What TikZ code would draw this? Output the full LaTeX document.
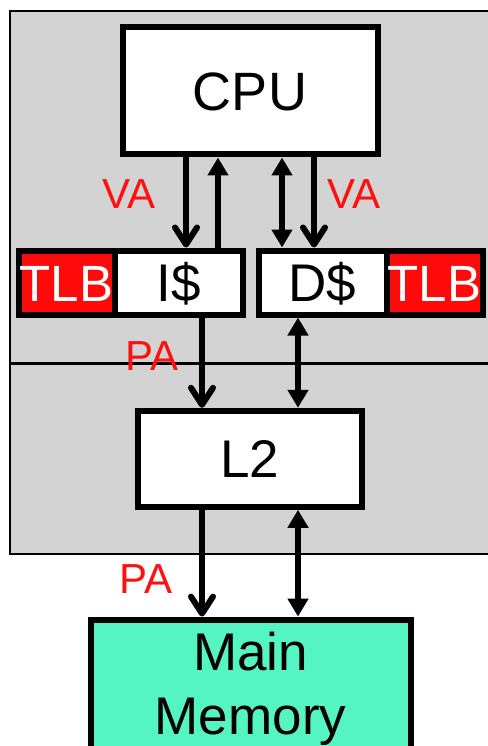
\documentclass[tikz,border=0pt]{standalone}
\usepackage{fontspec}
\setmainfont{Liberation Sans}
\usetikzlibrary{arrows.meta}
\definecolor{bggray}{HTML}{D3D3D3}
\definecolor{mint}{HTML}{55F5C3}
\definecolor{tlbred}{HTML}{FF0A0A}
\definecolor{lblred}{HTML}{FF1010}
\begin{document}
\begin{tikzpicture}[x=1pt,y=-1pt,
 plainbox/.style={draw=black,line width=6pt,fill=white,inner sep=0pt,font=\fontsize{53}{64}\selectfont},
 box/.style={plainbox,text height=38pt,text depth=0pt},
 tlbbox/.style={box,fill=tlbred,text=white,font=\fontsize{51}{60}\selectfont},
 lbl/.style={text=lblred,inner sep=0pt,font=\fontsize{42}{50}\selectfont,text height=30pt,text depth=0pt},
 down/.style={line width=6pt,-{Straight Barb[length=17pt,width=22pt,line cap=round,line join=round]}},
 up/.style={line width=6pt,-{Triangle[length=18pt,width=20pt]}},
 both/.style={line width=6pt,{Triangle[length=18pt,width=20pt]}-{Triangle[length=18pt,width=20pt]}},
]
\useasboundingbox (0,0) rectangle (487,746);
% background region
\path[fill=bggray,draw=black,line width=2.5pt] (10,11) rectangle (520,554);
\draw[line width=3pt] (10,363) -- (520,363);
% boxes
\node[box,minimum width=255pt,minimum height=127pt,font=\fontsize{54}{64}\selectfont,text height=39pt] (cpu) at (250,91) {CPU};
\node[tlbbox,minimum width=96pt,minimum height=64pt] (tlbi) at (66.5,282.5) {TLB};
\node[box,minimum width=128pt,minimum height=64pt] (icache) at (178.5,282.5) {I\$};
\node[box,minimum width=128pt,minimum height=64pt] (dcache) at (322.5,282.5) {D\$};
\node[tlbbox,minimum width=96pt,minimum height=64pt] (tlbd) at (434.5,282.5) {TLB};
\node[box,minimum width=224pt,minimum height=96pt] (l2) at (249.5,458.8) {L2};
\node[plainbox,fill=mint,minimum width=320pt,minimum height=138pt,align=center] (mm) at (250.5,688.6) {Main\\Memory};
% arrow columns
\coordinate (xa) at (186,0);
\coordinate (xb) at (218,0);
\coordinate (xc) at (282,0);
\coordinate (xd) at (314,0);
\coordinate (xe) at (202,0);
\coordinate (xf) at (298,0);
% connectors
\draw[down] (cpu.south -| xa) -- (icache.north -| xa);
\draw[up] (icache.north -| xb) -- (cpu.south -| xb);
\draw[both] (cpu.south -| xc) -- (dcache.north -| xc);
\draw[down] (cpu.south -| xd) -- (dcache.north -| xd);
\draw[down] (icache.south -| xe) -- (l2.north -| xe);
\draw[both] (dcache.south -| xf) -- (l2.north -| xf);
\draw[down] (l2.south -| xe) -- (mm.north -| xe);
\draw[both] (l2.south -| xf) -- (mm.north -| xf);
% labels
\node[lbl] (va1) at (129,193) {VA};
\node[lbl] (va2) at (354,193) {VA};
\node[lbl] (pa1) at (152,355) {PA};
\node[lbl] (pa2) at (146,578) {PA};
\end{tikzpicture}
\end{document}
